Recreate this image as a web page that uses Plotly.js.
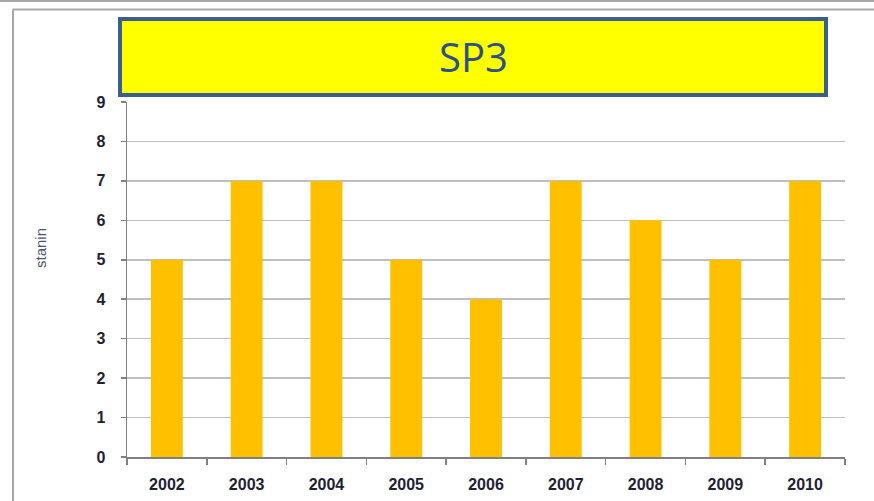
<!DOCTYPE html>
<html>
<head>
<meta charset="utf-8">
<script src="https://cdn.plot.ly/plotly-3.0.1.min.js"></script>
<style>
html,body{margin:0;padding:0;background:#fff;}
#chart{width:874px;height:501px;}
</style>
</head>
<body>
<div id="chart"></div>
<script>
const years = ["2002","2003","2004","2005","2006","2007","2008","2009","2010"];
const stanin = [5, 7, 7, 5, 4, 7, 6, 5, 7];
const chartTitle = "SP3";
const yTitle = "stanin";

const W = 874, H = 501;
const M = {l: 127, r: 29, t: 102, b: 44};
const pw = W - M.l - M.r, ph = H - M.t - M.b;
const px = x => (x - M.l) / pw;
const py = y => (H - M.b - y) / ph;

const data = [{
  type: 'bar',
  x: years,
  y: stanin,
  marker: {color: '#FFC000'},
  hoverinfo: 'x+y'
}];

const layout = {
  width: W, height: H,
  margin: M,
  paper_bgcolor: '#ffffff',
  plot_bgcolor: '#ffffff',
  showlegend: false,
  bargap: 0.6,
  font: {family: 'Liberation Sans, Arial, sans-serif', size: 16, color: '#222222'},
  xaxis: {
    type: 'category',
    showline: true, linecolor: '#808080', linewidth: 2,
    ticks: 'outside', ticklen: 6, tickcolor: '#808080', tickwidth: 1.5,
    tickson: 'boundaries',
    showgrid: false,
    tickfont: {size: 16, color: '#1f2233', weight: 'bold'},
    ticklabelstandoff: 12
  },
  yaxis: {
    range: [0, 9], dtick: 1, tick0: 0,
    showline: true, linecolor: '#808080', linewidth: 1.5,
    ticks: 'outside', ticklen: 5, tickcolor: '#808080', tickwidth: 1.5,
    showgrid: true, gridcolor: '#BFBFBF', gridwidth: 1.5,
    zeroline: false,
    tickfont: {size: 16, color: '#1f2233', weight: 'bold'},
    ticklabelstandoff: 12
  },
  shapes: [
    {type: 'line', xref: 'paper', yref: 'paper', x0: px(0), x1: px(874), y0: py(1), y1: py(1), line: {color: '#A8A8A8', width: 2}},
    {type: 'line', xref: 'paper', yref: 'paper', x0: px(13), x1: px(874), y0: py(9.5), y1: py(9.5), line: {color: '#A8A8A8', width: 2}},
    {type: 'line', xref: 'paper', yref: 'paper', x0: px(13), x1: px(13), y0: py(9.5), y1: py(501), line: {color: '#A8A8A8', width: 2}},
    {type: 'rect', xref: 'paper', yref: 'paper', x0: px(120), x1: px(826), y0: py(19), y1: py(95), fillcolor: '#FFFF00', line: {color: '#3A5F8F', width: 4}, layer: 'above'}
  ],
  annotations: [{
    xref: 'paper', yref: 'paper',
    x: px(473), y: py(57), xanchor: 'center', yanchor: 'middle',
    text: chartTitle, showarrow: false,
    font: {family: 'Open Sans, sans-serif', size: 40, color: '#2D5089'}
  }, {
    xref: 'paper', yref: 'paper',
    x: px(40), y: py(248), xanchor: 'center', yanchor: 'middle',
    text: yTitle, showarrow: false, textangle: -90,
    font: {family: 'Liberation Sans, Arial, sans-serif', size: 15, color: '#4a5570'}
  }]
};

Plotly.newPlot('chart', data, layout, {displayModeBar: false, staticPlot: true});
</script>
</body>
</html>
